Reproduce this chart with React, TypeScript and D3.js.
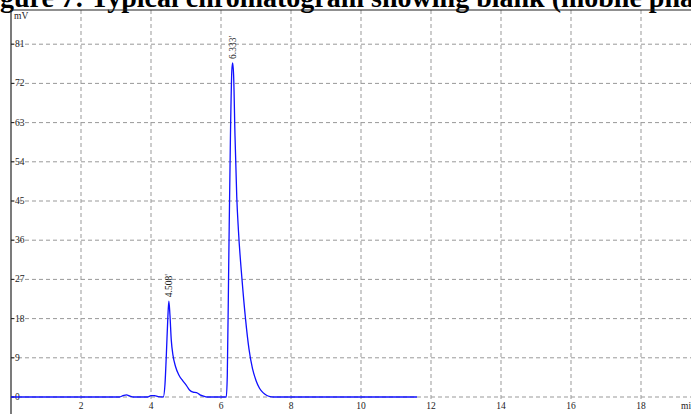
import { useEffect, useRef } from 'react'
import * as d3 from 'd3'

// chromatogram trace: retention time (min) / signal (mV)
const times = [
  0, 3.1, 3.2, 3.3, 3.4, 3.5, 3.9, 4.0, 4.1, 4.2, 4.35, 4.4, 4.44, 4.48, 4.51, 4.54, 4.58, 4.63, 4.7, 4.8,
  4.9, 5.0, 5.1, 5.2, 5.3, 5.4, 5.5, 5.6, 6.15, 6.18, 6.22, 6.27, 6.31, 6.333, 6.36, 6.4, 6.45, 6.5, 6.6,
  6.7, 6.8, 6.9, 7.0, 7.1, 7.2, 7.3, 7.4, 7.5, 11.6,
]
const signal = [
  0, 0, 0.3, 0.5, 0.2, 0, 0, 0.3, 0.3, 0.1, 0, 3, 10, 18, 22, 19, 13, 9.5, 7, 5, 3.8, 2.8, 1.6, 1.1, 1.0,
  0.5, 0.2, 0, 0, 5, 30, 60, 75, 76.7, 74, 60, 46, 38, 27, 18, 11, 6.5, 3.8, 2, 1, 0.4, 0.1, 0, 0,
]
const peakTimes = [4.508, 6.333]
const peakHeights = [22, 76.7]
const peakLabels = ["4.508'", "6.333'"]
const xTicks = [2, 4, 6, 8, 10, 12, 14, 16, 18]
const yTicks = [0, 9, 18, 27, 36, 45, 54, 63, 72, 81]

const W = 691
const H = 414

function Chromatogram() {
  const svgRef = useRef<SVGSVGElement>(null)

  useEffect(() => {
    if (!svgRef.current) return
    const svg = d3.select(svgRef.current)
    svg.selectAll('*').remove()

    const left = 11
    const top = 10
    const zeroY = 397

    const x = d3.scaleLinear().domain([0, 1]).range([left, left + 35])
    const y = d3.scaleLinear().domain([0, 9]).range([zeroY, zeroY - 39.2])

    const font = "'Liberation Serif', 'Times New Roman', serif"

    // title (cut at the top, as in the source page)
    svg
      .append('text')
      .attr('x', -25)
      .attr('y', 6.5)
      .style('font-family', font)
      .style('font-weight', 'bold')
      .style('font-size', '28px')
      .text('Figure 7: Typical chromatogram showing blank (mobile phase)')

    // grid
    svg
      .append('g')
      .selectAll('line')
      .data(yTicks)
      .enter()
      .append('line')
      .attr('x1', left)
      .attr('x2', W)
      .attr('y1', (d) => y(d))
      .attr('y2', (d) => y(d))
      .attr('stroke', '#999')
      .attr('stroke-dasharray', '4,3')

    svg
      .append('g')
      .selectAll('line')
      .data(xTicks)
      .enter()
      .append('line')
      .attr('x1', (d) => x(d))
      .attr('x2', (d) => x(d))
      .attr('y1', top)
      .attr('y2', zeroY + 2)
      .attr('stroke', '#999')
      .attr('stroke-dasharray', '4,3')

    // frame
    svg.append('line').attr('x1', left).attr('x2', W).attr('y1', top).attr('y2', top).attr('stroke', '#222').attr('stroke-width', 1.2)
    svg.append('line').attr('x1', left).attr('x2', left).attr('y1', top).attr('y2', H).attr('stroke', '#222').attr('stroke-width', 1.2)

    // y ticks and labels
    const yg = svg.append('g')
    yTicks.forEach((t) => {
      yg.append('line').attr('x1', left).attr('x2', left + 3).attr('y1', y(t)).attr('y2', y(t)).attr('stroke', '#222')
      yg.append('text')
        .attr('x', left + 4)
        .attr('y', y(t) + 3)
        .style('font-family', font)
        .style('font-size', '9.5px')
        .attr('fill', '#222')
        .text(t)
    })
    svg.append('text').attr('x', left + 3).attr('y', 19).style('font-family', font).style('font-size', '9.5px').attr('fill', '#222').text('mV')

    // x labels
    svg
      .append('g')
      .selectAll('text')
      .data(xTicks)
      .enter()
      .append('text')
      .attr('x', (d) => x(d))
      .attr('y', 409)
      .attr('text-anchor', 'middle')
      .style('font-family', font)
      .style('font-size', '9.5px')
      .attr('fill', '#222')
      .text((d) => d)
    svg.append('text').attr('x', 681).attr('y', 409).style('font-family', font).style('font-size', '9.5px').attr('fill', '#222').text('min')

    // trace
    const pts: [number, number][] = times.map((t, i) => [t, signal[i]])
    const line = d3
      .line<[number, number]>()
      .x((d) => x(d[0]))
      .y((d) => y(d[1]))
      .curve(d3.curveMonotoneX)
    svg.append('path').datum(pts).attr('d', line).attr('fill', 'none').attr('stroke', '#1010ff').attr('stroke-width', 1.3)

    // peak labels
    peakTimes.forEach((t, i) => {
      svg
        .append('text')
        .attr('transform', `translate(${x(t) + 3},${y(peakHeights[i]) - 4}) rotate(-90)`)
        .style('font-family', font)
        .style('font-size', '9.5px')
        .attr('fill', '#222')
        .text(peakLabels[i])
    })
  }, [])

  return <svg ref={svgRef} width={W} height={H} style={{ display: 'block', position: 'absolute', left: 0, top: 0 }} />
}

export default function App() {
  return <Chromatogram />
}
